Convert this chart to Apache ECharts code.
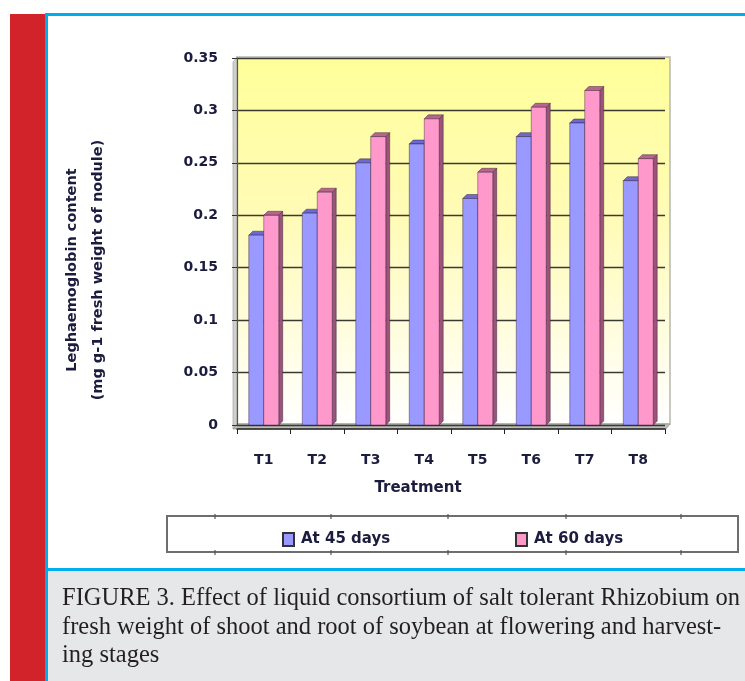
<!DOCTYPE html>
<html>
<head>
<meta charset="utf-8">
<style>
  html, body { margin: 0; padding: 0; background: #ffffff; }
  #chart { width: 745px; height: 681px; }
</style>
<script src="https://cdn.jsdelivr.net/npm/echarts@6/dist/echarts.min.js"></script>
</head>
<body>
<div id="chart"></div>
<script>
// Treatments on the category axis
const treatments = ['T1', 'T2', 'T3', 'T4', 'T5', 'T6', 'T7', 'T8'];
// Leghaemoglobin content (mg g-1 fresh weight of nodule)
const at45days = [0.181, 0.202, 0.250, 0.268, 0.216, 0.275, 0.288, 0.233];
const at60days = [0.200, 0.222, 0.275, 0.292, 0.241, 0.303, 0.319, 0.254];
const seriesNames = ['At 45 days', 'At 60 days'];
const yTicks = { min: 0, max: 0.35, interval: 0.05 };

const yTitleLines = ['Leghaemoglobin content', '(mg g-1 fresh weight of nodule)'];
const captionLines = [
  'FIGURE 3. Effect of liquid consortium of salt tolerant Rhizobium on',
  'fresh weight of shoot and root of soybean at flowering and harvest-',
  'ing stages'
];

const labelColor = '#1c1c3e';
const sansBold = '"DejaVu Sans", sans-serif';

// 3D-look column: front face, top cap and right side face
function makeRenderer(side, face, cap, wall) {
  return function (params, api) {
    const idx = api.value(0);
    const val = api.value(1);
    const top = api.coord([idx, val]);
    const base = api.coord([idx, 0]);
    const band = api.size([1, 0])[0];
    const w = band * 0.28;
    const d = 4;
    const x0 = side < 0 ? top[0] - w : top[0];
    const x1 = x0 + w;
    const y = top[1];
    const yb = base[1];
    const edge = 'rgba(40,20,50,0.6)';
    return {
      type: 'group',
      children: [
        {
          type: 'polygon',
          shape: { points: [[x1, y], [x1 + d, y - d], [x1 + d, yb - d], [x1, yb]] },
          style: { fill: wall, stroke: edge, lineWidth: 0.7 }
        },
        {
          type: 'polygon',
          shape: { points: [[x0, y], [x1, y], [x1 + d, y - d], [x0 + d, y - d]] },
          style: { fill: cap, stroke: edge, lineWidth: 0.7 }
        },
        {
          type: 'rect',
          shape: { x: x0, y: y, width: w, height: yb - y },
          style: { fill: face, stroke: edge, lineWidth: 0.7 }
        }
      ]
    };
  };
}

const chart = echarts.init(document.getElementById('chart'), null, { renderer: 'canvas' });

const gridBox = { left: 237, right: 80, top: 58, bottom: 256 };

// Legend box tick marks
const legendTicks = [215, 331, 448, 566, 681];
const legendTickShapes = [];
legendTicks.forEach(function (x) {
  legendTickShapes.push({ type: 'line', z: 5, shape: { x1: x, y1: 514, x2: x, y2: 519 }, style: { stroke: '#555', lineWidth: 1.2 } });
  legendTickShapes.push({ type: 'line', z: 5, shape: { x1: x, y1: 550, x2: x, y2: 555 }, style: { stroke: '#555', lineWidth: 1.2 } });
});

// Rotated value-axis title, two lines
const yTitleShapes = yTitleLines.map(function (t, i) {
  return {
    type: 'text', z: 5,
    x: 72 + i * 26, y: 270, rotation: Math.PI / 2,
    style: { x: 0, y: 0, text: t, fill: labelColor, font: 'bold 14.5px ' + sansBold, textAlign: 'center', textVerticalAlign: 'middle' }
  };
});

const graphics = [
  // page frame
  { type: 'rect', z: -20, shape: { x: 10, y: 14, width: 35, height: 667 }, style: { fill: '#d2232a' } },
  { type: 'rect', z: -20, shape: { x: 45, y: 14, width: 3, height: 667 }, style: { fill: '#00aeef' } },
  { type: 'rect', z: -20, shape: { x: 45, y: 13, width: 700, height: 3 }, style: { fill: '#00aeef' } },
  { type: 'rect', z: -20, shape: { x: 48, y: 571, width: 697, height: 110 }, style: { fill: '#e6e7e9' } },
  { type: 'rect', z: -20, shape: { x: 48, y: 568, width: 697, height: 3 }, style: { fill: '#00aeef' } },
  // back wall
  {
    type: 'rect', z: -10,
    shape: { x: 237, y: 57, width: 433, height: 367 },
    style: {
      fill: new echarts.graphic.LinearGradient(0, 0, 0, 1, [
        { offset: 0, color: '#ffff99' },
        { offset: 0.45, color: '#fffbb8' },
        { offset: 1, color: '#ffffff' }
      ]),
      stroke: '#b8b8b0', lineWidth: 1.5
    }
  },
  // side wall and floor
  { type: 'polygon', z: -9, shape: { points: [[233, 62], [237, 57], [237, 424], [233, 429]] }, style: { fill: '#d0d0cc', stroke: '#999', lineWidth: 0.6 } },
  { type: 'polygon', z: -9, shape: { points: [[233, 429], [237, 424], [670, 424], [666, 429]] }, style: { fill: '#bdbdb8', stroke: '#888', lineWidth: 0.6 } },
  // axis title
  {
    type: 'text', z: 5,
    style: { x: 418, y: 488, text: 'Treatment', fill: labelColor, font: 'bold 15px ' + sansBold, textAlign: 'center', textVerticalAlign: 'middle' }
  },
  // legend frame
  { type: 'rect', z: 4, shape: { x: 167, y: 516, width: 571, height: 36 }, style: { fill: '#ffffff', stroke: '#6e6e6e', lineWidth: 2 } }
].concat(legendTickShapes).concat(yTitleShapes).concat(captionLines.map(function (t, i) {
  return {
    type: 'text', z: 5,
    style: { x: 62, y: 599 + i * 28.5, text: t, fill: '#231f20', font: '24.5px "Liberation Serif", serif', textVerticalAlign: 'middle' }
  };
}));

chart.setOption({
  animation: false,
  backgroundColor: '#ffffff',
  grid: gridBox,
  legend: [
    {
      data: [seriesNames[0]], left: 277, top: 527, icon: 'rect', itemWidth: 11, itemHeight: 13, itemGap: 0,
      textStyle: { color: labelColor, fontWeight: 'bold', fontSize: 15, fontFamily: sansBold, padding: [0, 0, 0, 2] },
      z: 10
    },
    {
      data: [seriesNames[1]], left: 510, top: 527, icon: 'rect', itemWidth: 11, itemHeight: 13, itemGap: 0,
      textStyle: { color: labelColor, fontWeight: 'bold', fontSize: 15, fontFamily: sansBold, padding: [0, 0, 0, 2] },
      z: 10
    }
  ],
  xAxis: {
    type: 'category',
    data: treatments,
    axisLine: { show: true, lineStyle: { color: '#222', width: 1.5 }, onZero: false },
    axisTick: { show: true, length: 5, lineStyle: { color: '#222' } },
    axisLabel: { color: labelColor, fontWeight: 'bold', fontSize: 14, fontFamily: sansBold, margin: 24 },
    splitLine: { show: false },
    offset: 4
  },
  yAxis: {
    type: 'value',
    min: yTicks.min, max: yTicks.max, interval: yTicks.interval,
    axisLine: { show: true, lineStyle: { color: '#555', width: 1.2 } },
    axisTick: { show: true, length: 5, lineStyle: { color: '#333' } },
    axisLabel: { color: labelColor, fontWeight: 'bold', fontSize: 14, fontFamily: sansBold, margin: 19 },
    splitLine: { show: true, lineStyle: { color: '#3a3a30', width: 1.3 } }
  },
  graphic: graphics,
  series: [
    {
      name: seriesNames[0],
      type: 'custom',
      renderItem: makeRenderer(-1, '#9999ff', '#6a6ad0', '#5a5aa8'),
      encode: { x: 0, y: 1 },
      itemStyle: { color: '#9999ff', borderColor: '#333', borderWidth: 1 },
      data: treatments.map(function (t, i) { return [i, at45days[i]]; }),
      z: 3
    },
    {
      name: seriesNames[1],
      type: 'custom',
      renderItem: makeRenderer(1, '#ff99cc', '#b8648c', '#9a5478'),
      encode: { x: 0, y: 1 },
      itemStyle: { color: '#ff99cc', borderColor: '#333', borderWidth: 1 },
      data: treatments.map(function (t, i) { return [i, at60days[i]]; }),
      z: 4
    }
  ]
});
</script>
</body>
</html>
